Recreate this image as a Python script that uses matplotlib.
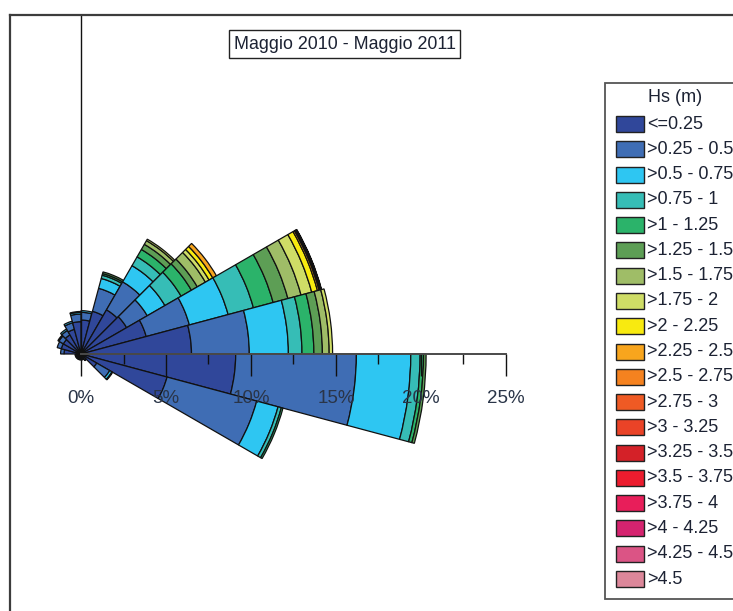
import matplotlib
matplotlib.use("Agg")
import matplotlib.pyplot as plt
from matplotlib.patches import Wedge, Rectangle
from matplotlib.lines import Line2D

plt.rcParams['font.family'] = ['Liberation Sans', 'DejaVu Sans']

# ---------------- data ----------------
title = "Maggio 2010 - Maggio 2011"
legend_title = "Hs (m)"
hs_classes = ["<=0.25", ">0.25 - 0.5", ">0.5 - 0.75", ">0.75 - 1", ">1 - 1.25",
              ">1.25 - 1.5", ">1.5 - 1.75", ">1.75 - 2", ">2 - 2.25", ">2.25 - 2.5",
              ">2.5 - 2.75", ">2.75 - 3", ">3 - 3.25", ">3.25 - 3.5", ">3.5 - 3.75",
              ">3.75 - 4", ">4 - 4.25", ">4.25 - 4.5", ">4.5"]
class_colors = ["#30479a", "#3f6db4", "#2ec6f2", "#36bdb6", "#2bb36a",
                "#5d9e55", "#9fbd67", "#cfdd66", "#f8ea10", "#f8a51d",
                "#f5821f", "#ef5a24", "#ea4327", "#d42128", "#ec1c2e",
                "#e81e5a", "#d5236f", "#db5485", "#dc879a"]

# direction sectors (compass degrees, centre of each 15 deg sector)
directions = [7.5, 22.5, 37.5, 52.5, 67.5, 82.5, 97.5, 112.5, 127.5, 142.5, 157.5, 172.5,
              187.5, 202.5, 217.5, 232.5, 247.5, 262.5, 277.5, 292.5, 307.5, 322.5, 337.5, 352.5]
sector_width = 15.0

# frequency (%) of each Hs class per direction sector
f_hs01 = [2.00, 2.60, 3.00, 3.10, 3.97, 6.50, 9.10, 5.24, 1.07, 0.45, 0.35, 0.35,
          0.35, 0.35, 0.35, 0.35, 0.35, 0.35, 1.00, 1.20, 1.20, 1.30, 1.50, 1.90]
f_hs02 = [0.45, 1.40, 1.90, 1.40, 2.63, 3.40, 7.10, 5.46, 0.88, 0.00, 0.00, 0.00,
          0.00, 0.00, 0.00, 0.00, 0.00, 0.00, 0.20, 0.25, 0.30, 0.30, 0.40, 0.45]
f_hs03 = [0.10, 0.60, 1.10, 1.20, 2.36, 2.30, 3.20, 1.30, 0.15, 0.00, 0.00, 0.00,
          0.00, 0.00, 0.00, 0.00, 0.00, 0.00, 0.00, 0.00, 0.07, 0.10, 0.10, 0.10]
f_hs04 = [0.00, 0.20, 0.60, 1.10, 1.54, 0.80, 0.55, 0.20, 0.05, 0.00, 0.00, 0.00,
          0.00, 0.00, 0.00, 0.00, 0.00, 0.00, 0.00, 0.00, 0.00, 0.00, 0.00, 0.05]
f_hs05 = [0.00, 0.10, 0.50, 0.70, 1.20, 0.70, 0.20, 0.10, 0.00, 0.00, 0.00, 0.00,
          0.00, 0.00, 0.00, 0.00, 0.00, 0.00, 0.00, 0.00, 0.00, 0.00, 0.00, 0.00]
f_hs06 = [0.00, 0.10, 0.35, 0.40, 0.90, 0.50, 0.15, 0.00, 0.00, 0.00, 0.00, 0.00,
          0.00, 0.00, 0.00, 0.00, 0.00, 0.00, 0.00, 0.00, 0.00, 0.00, 0.00, 0.00]
f_hs07 = [0.00, 0.00, 0.25, 0.55, 0.80, 0.40, 0.00, 0.00, 0.00, 0.00, 0.00, 0.00,
          0.00, 0.00, 0.00, 0.00, 0.00, 0.00, 0.00, 0.00, 0.00, 0.00, 0.00, 0.00]
f_hs08 = [0.00, 0.00, 0.10, 0.25, 0.65, 0.20, 0.00, 0.00, 0.00, 0.00, 0.00, 0.00,
          0.00, 0.00, 0.00, 0.00, 0.00, 0.00, 0.00, 0.00, 0.00, 0.00, 0.00, 0.00]
f_hs09 = [0.00, 0.00, 0.00, 0.25, 0.35, 0.00, 0.00, 0.00, 0.00, 0.00, 0.00, 0.00,
          0.00, 0.00, 0.00, 0.00, 0.00, 0.00, 0.00, 0.00, 0.00, 0.00, 0.00, 0.00]
f_hs10 = [0.00, 0.00, 0.00, 0.25, 0.10, 0.00, 0.00, 0.00, 0.00, 0.00, 0.00, 0.00,
          0.00, 0.00, 0.00, 0.00, 0.00, 0.00, 0.00, 0.00, 0.00, 0.00, 0.00, 0.00]
f_hs11 = [0.00, 0.00, 0.00, 0.00, 0.05, 0.00, 0.00, 0.00, 0.00, 0.00, 0.00, 0.00,
          0.00, 0.00, 0.00, 0.00, 0.00, 0.00, 0.00, 0.00, 0.00, 0.00, 0.00, 0.00]
f_hs12 = [0.00, 0.00, 0.00, 0.00, 0.05, 0.00, 0.00, 0.00, 0.00, 0.00, 0.00, 0.00,
          0.00, 0.00, 0.00, 0.00, 0.00, 0.00, 0.00, 0.00, 0.00, 0.00, 0.00, 0.00]
f_hs13 = [0.00, 0.00, 0.00, 0.00, 0.03, 0.00, 0.00, 0.00, 0.00, 0.00, 0.00, 0.00,
          0.00, 0.00, 0.00, 0.00, 0.00, 0.00, 0.00, 0.00, 0.00, 0.00, 0.00, 0.00]
f_hs14 = [0.00, 0.00, 0.00, 0.00, 0.02, 0.00, 0.00, 0.00, 0.00, 0.00, 0.00, 0.00,
          0.00, 0.00, 0.00, 0.00, 0.00, 0.00, 0.00, 0.00, 0.00, 0.00, 0.00, 0.00]
frequency_series = [f_hs01, f_hs02, f_hs03, f_hs04, f_hs05, f_hs06, f_hs07,
                    f_hs08, f_hs09, f_hs10, f_hs11, f_hs12, f_hs13, f_hs14]

radial_ticks = [0, 5, 10, 15, 20, 25]
radial_tick_labels = ["0%", "5%", "10%", "15%", "20%", "25%"]
radial_minor_ticks = [2.5, 7.5, 12.5, 17.5, 22.5]

# ---------------- figure ----------------
W, H = 733, 611
fig = plt.figure(figsize=(W / 100, H / 100), dpi=100)
fig.patch.set_facecolor("white")

def fxy(px, py):
    return px / W, 1 - py / H

# chart area in pixels; centre of the rose at (81, 354), 17 px per 1 %
cx, cy, scale = 81, 354, 17.0
left_px, right_px, top_px, bot_px = 10, 600, 15, 611
ax = fig.add_axes([left_px / W, 1 - bot_px / H, (right_px - left_px) / W, (bot_px - top_px) / H])
ax.set_xlim((left_px - cx) / scale, (right_px - cx) / scale)
ax.set_ylim((cy - bot_px) / scale, (cy - top_px) / scale)
ax.set_facecolor("none")

# stacked sectors
for i, d in enumerate(directions):
    theta_c = 90 - d
    t1, t2 = theta_c - sector_width / 2, theta_c + sector_width / 2
    r0 = 0.0
    for k, series in enumerate(frequency_series):
        v = series[i]
        if v <= 0:
            continue
        w = Wedge((0, 0), r0 + v, t1, t2, width=v, facecolor=class_colors[k],
                  edgecolor="#111111", linewidth=0.9, zorder=2)
        ax.add_patch(w)
        r0 += v

# axes lines and ticks
for s in ["top", "right"]:
    ax.spines[s].set_visible(False)
ax.spines["left"].set_position(("data", 0))
ax.spines["left"].set_bounds(0, (cy - top_px) / scale)
ax.spines["left"].set_color("#111111")
ax.spines["left"].set_linewidth(1.0)
ax.spines["left"].set_zorder(3)
ax.spines["bottom"].set_position(("data", 0))
ax.spines["bottom"].set_bounds(0, 25)
ax.spines["bottom"].set_color("#4a4a4a")
ax.spines["bottom"].set_linewidth(1.4)
ax.spines["bottom"].set_zorder(3)
ax.set_yticks([])
ax.set_xticks(radial_ticks)
ax.set_xticklabels(radial_tick_labels)
ax.set_xticks(radial_minor_ticks, minor=True)
ax.tick_params(axis="x", which="major", length=16, width=1.0, color="#111111",
               direction="out", pad=10, labelsize=13.5, labelcolor="#2a3548")
ax.tick_params(axis="x", which="minor", length=7.5, width=1.0, color="#111111",
               direction="out")
ax.set_axisbelow(False)

# outer frame (figure level)
fig.add_artist(Line2D([10 / W, 1.0], [1 - 15 / H] * 2, color="#3c3c3c", lw=1.6))
fig.add_artist(Line2D([10 / W] * 2, [1 - 15 / H, 0.0], color="#3c3c3c", lw=1.6))

# title box
x0, y0 = fxy(229, 58)
fig.add_artist(Rectangle((x0, y0), 231 / W, 28 / H, transform=fig.transFigure,
                         facecolor="white", edgecolor="#222222", lw=1.0))
tx, ty = fxy(345, 44.5)
fig.text(tx, ty, title, ha="center", va="center", fontsize=12.9, color="#1c2233")

# legend box
lx0, ly0 = fxy(605, 599)
fig.add_artist(Rectangle((lx0, ly0), 150 / W, (599 - 83) / H, transform=fig.transFigure,
                         facecolor="white", edgecolor="#555555", lw=1.3))
hx, hy = fxy(675, 98)
fig.text(hx, hy, legend_title, ha="center", va="center", fontsize=13, color="#1c2233")
row0, step = 124.0, 25.28
for k, (lab, col) in enumerate(zip(hs_classes, class_colors)):
    yc = row0 + k * step
    sx, sy = fxy(616, yc + 8)
    fig.add_artist(Rectangle((sx, sy), 28 / W, 16 / H, transform=fig.transFigure,
                             facecolor=col, edgecolor="#222222", lw=1.0))
    tx, ty = fxy(647, yc)
    fig.text(tx, ty, lab, ha="left", va="center", fontsize=13, color="#1c2233")

fig.savefig("out.png", dpi=100)
